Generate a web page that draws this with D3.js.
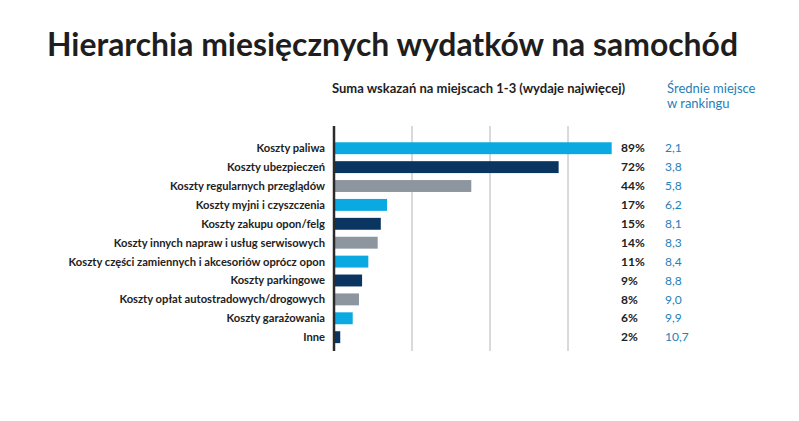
<!DOCTYPE html>
<html lang="pl">
<head>
<meta charset="UTF-8">
<title>Hierarchia miesięcznych wydatków na samochód</title>
<script src="https://d3js.org/d3.v7.min.js"></script>
<style>
  body { margin: 0; background: #ffffff; }
  svg text { font-family: Lato, "Open Sans", sans-serif; }
</style>
</head>
<body>
<svg id="chart"></svg>
<script>
    // data
    const categories = [
        "Koszty paliwa",
        "Koszty ubezpieczeń",
        "Koszty regularnych przeglądów",
        "Koszty myjni i czyszczenia",
        "Koszty zakupu opon/felg",
        "Koszty innych napraw i usług serwisowych",
        "Koszty części zamiennych i akcesoriów oprócz opon",
        "Koszty parkingowe",
        "Koszty opłat autostradowych/drogowych",
        "Koszty garażowania",
        "Inne"
    ];
    const shares = [89, 72, 44, 17, 15, 14, 11, 9, 8, 6, 2];
    const avgRank = ["2,1", "3,8", "5,8", "6,2", "8,1", "8,3", "8,4", "8,8", "9,0", "9,9", "10,7"];
    const gridTicks = [25, 50, 75];
    const palette = ["#0aa9e1", "#0b3561", "#8d969e"];

    const width = 799, height = 421;
    const svg = d3.select("#chart")
        .attr("width", width)
        .attr("height", height);

    const x = d3.scaleLinear().domain([0, 100]).range([334, 646]);
    const y = d3.scaleBand().domain(categories).range([136.6, 348.8]).paddingInner(0.37).paddingOuter(0.3);

    // title (slightly squeezed to the reference width)
    svg.append("text")
        .attr("x", 47).attr("y", 56)
        .attr("font-size", 32.5).attr("font-weight", 700)
        .attr("textLength", 691).attr("lengthAdjust", "spacingAndGlyphs")
        .attr("fill", "#1e1e1e")
        .text("Hierarchia miesięcznych wydatków na samochód");

    svg.append("text")
        .attr("x", 332).attr("y", 93)
        .attr("font-size", 13).attr("font-weight", 700)
        .attr("fill", "#1e1e1e")
        .text("Suma wskazań na miejscach 1-3 (wydaje najwięcej)");

    const head = svg.append("text")
        .attr("x", 667).attr("y", 93)
        .attr("font-size", 13)
        .attr("fill", "#2680b8");
    head.append("tspan").attr("x", 667).text("Średnie miejsce");
    head.append("tspan").attr("x", 667).attr("dy", 15).text("w rankingu");

    // grid lines
    svg.append("g")
        .selectAll("line")
        .data(gridTicks)
        .join("line")
        .attr("x1", d => x(d)).attr("x2", d => x(d))
        .attr("y1", 126).attr("y2", 351)
        .attr("stroke", "#b4b4b4").attr("stroke-width", 1);

    // bars
    svg.append("g")
        .selectAll("rect")
        .data(shares)
        .join("rect")
        .attr("x", x(0))
        .attr("y", (d, i) => y(categories[i]))
        .attr("width", d => x(d) - x(0))
        .attr("height", y.bandwidth())
        .attr("fill", (d, i) => palette[i % 3]);

    // axis line
    svg.append("line")
        .attr("x1", x(0)).attr("x2", x(0))
        .attr("y1", 126).attr("y2", 351)
        .attr("stroke", "#2b2b2b").attr("stroke-width", 2.5);

    // category labels
    svg.append("g")
        .selectAll("text")
        .data(categories)
        .join("text")
        .attr("x", 325)
        .attr("y", d => y(d) + y.bandwidth() / 2)
        .attr("dy", "0.35em")
        .attr("text-anchor", "end")
        .attr("font-size", 11.2).attr("font-weight", 700)
        .attr("fill", "#222")
        .text(d => d);

    // percent labels
    svg.append("g")
        .selectAll("text")
        .data(shares)
        .join("text")
        .attr("x", 621)
        .attr("y", (d, i) => y(categories[i]) + y.bandwidth() / 2)
        .attr("dy", "0.35em")
        .attr("font-size", 12).attr("font-weight", 700)
        .attr("fill", "#222")
        .text(d => d + "%");

    // average rank
    svg.append("g")
        .selectAll("text")
        .data(avgRank)
        .join("text")
        .attr("x", 665)
        .attr("y", (d, i) => y(categories[i]) + y.bandwidth() / 2)
        .attr("dy", "0.35em")
        .attr("font-size", 12)
        .attr("fill", "#2680b8")
        .text(d => d);
</script>
</body>
</html>
